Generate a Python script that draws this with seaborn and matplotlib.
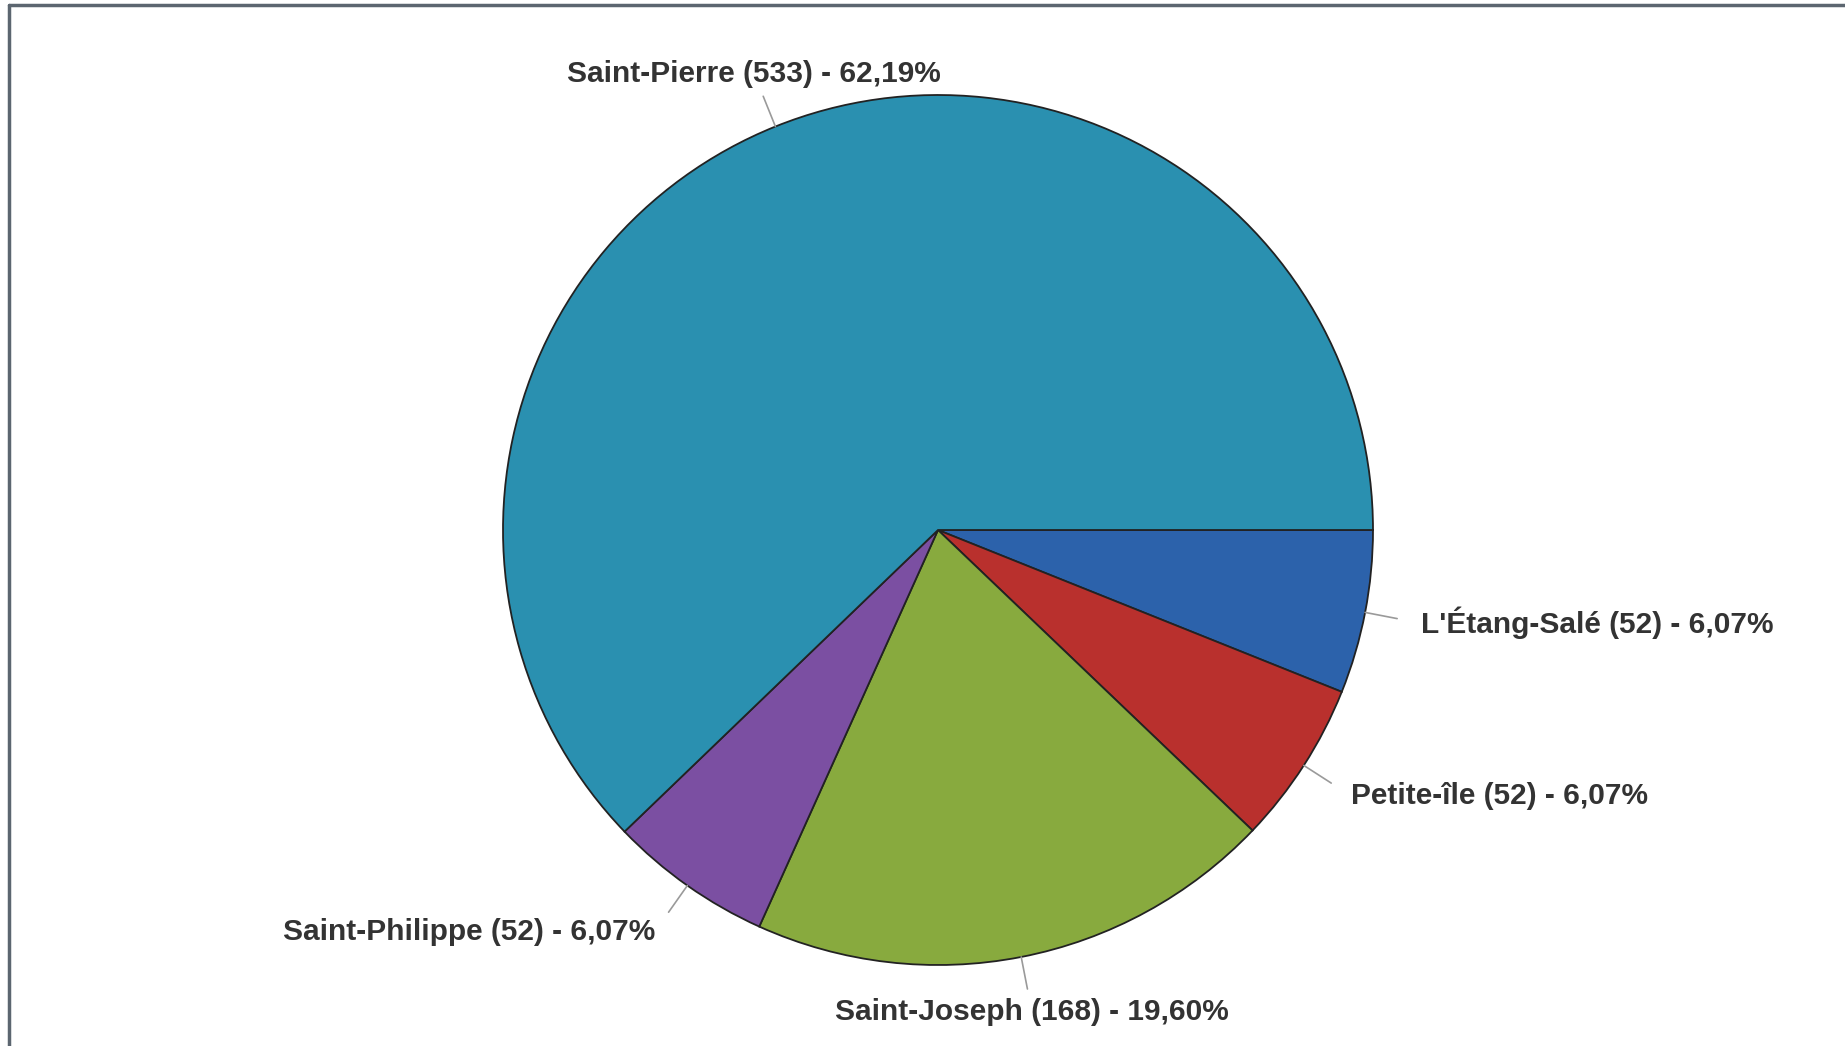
import numpy as np
import matplotlib
matplotlib.use("Agg")
import matplotlib.pyplot as plt
import seaborn as sns

# Data (clockwise from 3 o'clock)
communes = ["L'Étang-Salé", "Petite-île", "Saint-Joseph", "Saint-Philippe", "Saint-Pierre"]
counts = [52, 52, 168, 52, 533]
pct_labels = ["6,07%", "6,07%", "19,60%", "6,07%", "62,19%"]
colors = ["#2c62ab", "#b9302d", "#88aa3e", "#7b4fa2", "#2a90b0"]

sns.set_theme(style="white")
plt.rcParams['font.family'] = ['Liberation Sans', 'DejaVu Sans']

W, H = 1845, 1046
fig = plt.figure(figsize=(W / 100, H / 100), dpi=100)
fig.patch.set_facecolor("white")
ax = fig.add_axes([0, 0, 1, 1])

cx, cy, R = 938, H - 530, 435
wedges, _ = ax.pie(counts, colors=colors, startangle=0, counterclock=False,
                   center=(cx, cy), radius=R,
                   wedgeprops=dict(edgecolor="#222222", linewidth=1.3))

# labels with short radial connectors
for w, name, n, p in zip(wedges, communes, counts, pct_labels):
    ang = np.deg2rad((w.theta1 + w.theta2) / 2)
    c, s = np.cos(ang), np.sin(ang)
    ax.plot([cx + R * c, cx + R * 1.075 * c], [cy + R * s, cy + R * 1.075 * s],
            color="#9a9a9a", lw=1.2, zorder=1)
    if c > 0.45:
        ha = "left"
    elif c < -0.45:
        ha = "right"
    else:
        ha = "center"
    ax.text(cx + R * 1.13 * c, cy + R * 1.13 * s, f"{name} ({n}) - {p}",
            ha=ha, va="center", fontsize=21.5, fontweight="bold", color="#333333")

ax.set_xlim(0, W)
ax.set_ylim(0, H)
ax.set_aspect("equal")
ax.axis("off")

# chart frame (left and top edges visible)
ax.plot([9, 9], [0, H - 5], color="#5c6670", lw=2.5, clip_on=False)
ax.plot([9, W], [H - 5, H - 5], color="#5c6670", lw=2.5, clip_on=False)

fig.savefig("out.png", dpi=100, facecolor="white")
